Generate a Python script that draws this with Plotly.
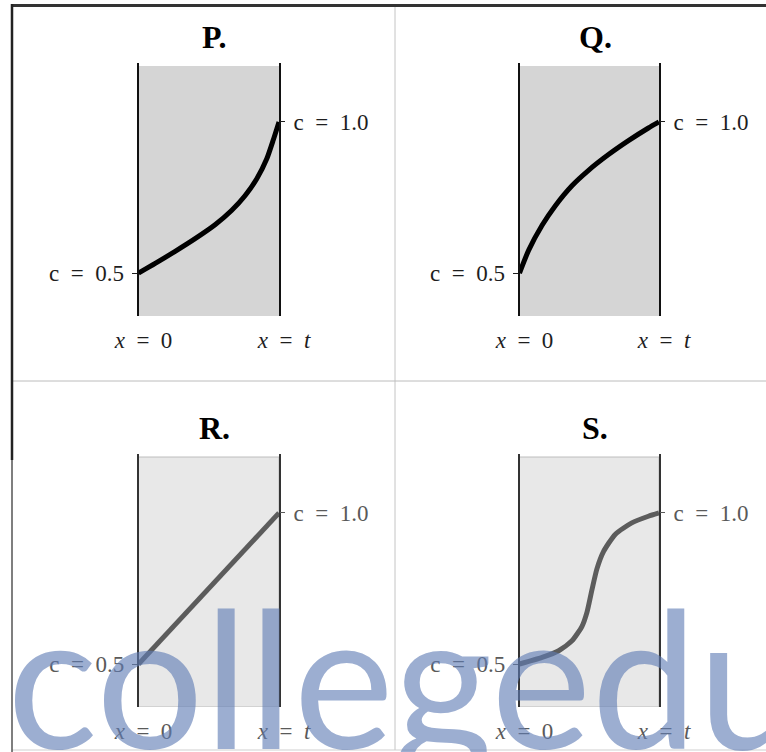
import plotly.graph_objects as go

W, H = 766, 752

# position (0 = x=0, 1 = x=t) and concentration
p_pos = [0, 0.119, 0.261, 0.403, 0.545, 0.664, 0.758, 0.842, 0.913, 0.959, 1.0]
p_conc = [0.5, 0.532, 0.572, 0.614, 0.66, 0.708, 0.756, 0.812, 0.878, 0.94, 1.0]
q_pos = [0, 0.066, 0.162, 0.257, 0.376, 0.495, 0.638, 0.781, 0.924, 1.0]
q_conc = [0.5, 0.576, 0.658, 0.723, 0.789, 0.84, 0.892, 0.938, 0.98, 1.0]
r_pos = [0, 1.0]
r_conc = [0.5, 1.0]
s_pos = [0, 0.162, 0.281, 0.376, 0.448, 0.484, 0.519, 0.555, 0.602, 0.686, 0.805, 0.924, 1.0]
s_conc = [0.5, 0.522, 0.544, 0.577, 0.625, 0.672, 0.745, 0.815, 0.872, 0.929, 0.967, 0.989, 1.0]

titles = ["P.", "Q.", "R.", "S."]
x_ticks = [0, 1]
x_labels = ["<i>x</i>\u2002=\u20020", "<i>x</i>\u2002=\u2002<i>t</i>"]
low_label = "c\u2002=\u20020.5"
high_label = "c\u2002=\u20021.0"

series = [(p_pos, p_conc), (q_pos, q_conc), (r_pos, r_conc), (s_pos, s_conc)]
y_range = [0.358, 1.195]
SERIF = "Liberation Serif"


def fx(px):
    return px / W


def fy(py):
    return 1 - py / H


def sfx(n):
    return "" if n == 1 else str(n)


# pixel boxes of each panel (left, right, top, bottom of the bar)
boxes = [(138.5, 279, 63, 316), (519.5, 659, 63, 316),
         (138.5, 279, 454, 707), (519.5, 659, 454, 707)]

fig = go.Figure()
layout = dict(template="none", width=W, height=H,
              margin=dict(l=0, r=0, t=0, b=0, autoexpand=False),
              paper_bgcolor="white", plot_bgcolor="rgba(0,0,0,0)",
              showlegend=False, shapes=[], annotations=[])

for i, ((x0, x1, y0, y1), (pos, conc), title) in enumerate(zip(boxes, series, titles)):
    n = i + 1
    top = i < 2
    ink = "#000000" if top else "#5c5c5c"
    text_col = "#1e1e1e" if top else "#5a5a5a"
    fill = "#d5d5d5" if top else "#e8e8e8"
    edge = "#111111" if top else "#333333"
    xa, ya, ya2 = f"xaxis{sfx(n)}", f"yaxis{sfx(n)}", f"yaxis{n + 4}"
    xr, yr, yr2 = f"x{sfx(n)}", f"y{sfx(n)}", f"y{n + 4}"

    layout[xa] = dict(domain=[fx(x0), fx(x1)], range=[0, 1], anchor=yr,
                      automargin=False, showgrid=False, zeroline=False,
                      showline=False, ticks="",
                      tickvals=x_ticks, ticktext=x_labels, ticklabelstandoff=8,
                      ticklabelshift=5,
                      tickfont=dict(family=SERIF, size=23, color=text_col),
                      fixedrange=True)
    layout[ya] = dict(domain=[fy(y1), fy(y0)], range=y_range, anchor=xr,
                      automargin=False, showgrid=False, zeroline=False,
                      showline=True, mirror=True,
                      linecolor=edge, linewidth=2 if top else 1.5,
                      ticks="outside", ticklen=5, tickwidth=1, tickcolor=text_col,
                      tickvals=[0.5], ticktext=[low_label], ticklabelstandoff=3,
                      tickfont=dict(family=SERIF, size=23, color=text_col),
                      fixedrange=True)
    layout[ya2] = dict(overlaying=yr, side="right", range=y_range, anchor=xr,
                       automargin=False, showgrid=False, zeroline=False,
                       showline=False,
                       ticks="outside", ticklen=5, tickwidth=1, tickcolor=text_col,
                       tickvals=[1.0], ticktext=[high_label], ticklabelstandoff=4,
                       tickfont=dict(family=SERIF, size=23, color=text_col),
                       fixedrange=True)

    # grey bar
    layout["shapes"].append(dict(type="rect", xref=xr, yref=yr, x0=0, x1=1,
                                 y0=y_range[0], y1=1.185, fillcolor=fill,
                                 line=dict(width=1 if not top else 0, color="#bdbdbd"),
                                 layer="below"))
    layout["annotations"].append(dict(text=f"<b>{title}</b>", xref=f"{xr} domain",
                                      yref="paper", x=0.5, xshift=6,
                                      y=fy(37 if top else 428), yanchor="middle",
                                      showarrow=False,
                                      font=dict(family=SERIF, size=32, color="#000000")))

    fig.add_trace(go.Scatter(x=pos, y=conc, mode="lines", xaxis=xr, yaxis=yr,
                             line=dict(color=ink, width=5, shape="spline",
                                       smoothing=0.6),
                             hoverinfo="skip"))
    # invisible trace so the right axis is drawn
    fig.add_trace(go.Scatter(x=[0], y=[1.0], mode="markers", xaxis=xr, yaxis=yr2,
                             marker=dict(opacity=0), hoverinfo="skip"))

# frame and dividers
layout["shapes"] += [
    dict(type="line", xref="paper", yref="paper", x0=fx(395), x1=fx(395),
         y0=fy(5), y1=fy(750), line=dict(color="#c4c4c4", width=1)),
    dict(type="line", xref="paper", yref="paper", x0=fx(12), x1=fx(766),
         y0=fy(381), y1=fy(381), line=dict(color="#bcbcbc", width=1)),
    dict(type="line", xref="paper", yref="paper", x0=fx(12), x1=fx(766),
         y0=fy(750), y1=fy(750), line=dict(color="#cfcfcf", width=1)),
    dict(type="line", xref="paper", yref="paper", x0=fx(11), x1=fx(766),
         y0=fy(5.5), y1=fy(5.5), line=dict(color="#333333", width=3)),
    dict(type="line", xref="paper", yref="paper", x0=fx(12), x1=fx(12),
         y0=fy(4), y1=fy(460), line=dict(color="#222222", width=2.5)),
    dict(type="line", xref="paper", yref="paper", x0=fx(12), x1=fx(12),
         y0=fy(460), y1=fy(752), line=dict(color="#555555", width=1.5)),
]

# watermark
layout["annotations"].append(dict(text="collegedu", xref="paper", yref="paper",
                                  x=fx(5), y=fy(791), xanchor="left", yanchor="bottom",
                                  showarrow=False,
                                  font=dict(family="Lato", size=190,
                                            color="rgba(95,125,180,0.62)")))

fig.update_layout(**layout)
fig.write_html("out.html", config={"displayModeBar": False},
               post_script="document.body.style.margin='0';"
                           "document.body.style.overflow='hidden';")
